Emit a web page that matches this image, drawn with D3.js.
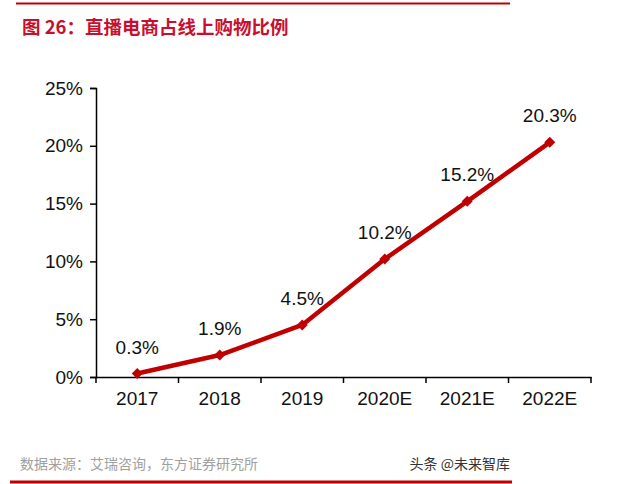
<!DOCTYPE html>
<html>
<head>
<meta charset="utf-8">
<script src="https://cdn.jsdelivr.net/npm/d3@7"></script>
<style>
  body { margin: 0; background: #fff; }
  svg { display: block; }
</style>
</head>
<body>
<div id="chart"></div>
<script>
const years = ['2017', '2018', '2019', '2020E', '2021E', '2022E'];
const shares = [0.3, 1.9, 4.5, 10.2, 15.2, 20.3];
const yTicks = [0, 5, 10, 15, 20, 25];

const width = 640, height = 484;
const margin = { left: 96, right: 49, top: 88, bottom: 107 };

const svg = d3.select('#chart').append('svg')
    .attr('width', width)
    .attr('height', height);

// top rule + title
svg.append('line')
    .attr('x1', 16).attr('x2', 510)
    .attr('y1', 3.5).attr('y2', 3.5)
    .attr('stroke', '#c00000').attr('stroke-width', 2);

svg.append('text')
    .attr('x', 22).attr('y', 34)
    .text('图 26：直播电商占线上购物比例')
    .style('fill', '#c8102e')
    .style('font-family', '"Noto Sans CJK SC", sans-serif')
    .style('font-weight', 'bold')
    .style('font-size', '18.5px');

// scales
let xScale = d3.scaleBand()
    .domain(years)
    .range([margin.left, width - margin.right]);

let yScale = d3.scaleLinear()
    .domain([0, 25])
    .range([height - margin.bottom, margin.top]);

const font = '"Liberation Sans", Arial, sans-serif';

// y axis
let yAxis = svg.append('g')
    .attr('transform', `translate(${margin.left},0)`)
    .call(d3.axisLeft(yScale).tickValues(yTicks).tickSize(6).tickPadding(7).tickFormat(d => d + '%'));

// x axis
let xAxis = svg.append('g')
    .attr('transform', `translate(0,${height - margin.bottom})`)
    .call(d3.axisBottom(xScale).tickSize(0).tickPadding(15));

// category boundary ticks on x axis
xAxis.selectAll('.bound')
    .data(years.concat(['end']))
    .join('line')
    .attr('class', 'bound')
    .attr('x1', (d, i) => margin.left + i * xScale.step())
    .attr('x2', (d, i) => margin.left + i * xScale.step())
    .attr('y1', 0).attr('y2', 6)
    .attr('stroke', '#000').attr('stroke-width', 1.5);

[yAxis, xAxis].forEach(ax => {
    ax.select('.domain').attr('stroke', '#000').attr('stroke-width', 1.5);
    ax.selectAll('.tick line').attr('stroke', '#000').attr('stroke-width', 1.5);
    ax.selectAll('text')
        .style('font-family', font)
        .style('font-size', '19px')
        .style('fill', '#111');
});
xAxis.selectAll('text').attr('dy', '0.71em');

// line
let lineGenerator = d3.line()
    .x((d, i) => xScale(years[i]) + xScale.bandwidth() / 2)
    .y(d => yScale(d));

svg.append('path')
    .attr('d', lineGenerator(shares))
    .attr('fill', 'none')
    .attr('stroke', '#c00000')
    .attr('stroke-width', 4.5)
    .attr('stroke-linejoin', 'round');

// diamond markers (rotated squares)
svg.selectAll('.marker')
    .data(shares)
    .join('path')
    .attr('class', 'marker')
    .attr('d', d3.symbol(d3.symbolSquare, 60))
    .attr('transform', (d, i) => `translate(${xScale(years[i]) + xScale.bandwidth() / 2},${yScale(d)}) rotate(45)`)
    .attr('fill', '#c00000');

svg.selectAll('.val')
    .data(shares)
    .join('text')
    .attr('class', 'val')
    .attr('x', (d, i) => xScale(years[i]) + xScale.bandwidth() / 2)
    .attr('y', d => yScale(d) - 20)
    .attr('text-anchor', 'middle')
    .text(d => d.toFixed(1) + '%')
    .style('font-family', font)
    .style('font-size', '19px')
    .style('fill', '#111');

// footer
svg.append('text')
    .attr('x', 20).attr('y', 469)
    .text('数据来源：艾瑞咨询，东方证券研究所')
    .style('fill', '#a0a0a0')
    .style('font-family', '"Noto Sans CJK SC", sans-serif')
    .style('font-size', '14px');

svg.append('text')
    .attr('x', 510).attr('y', 469)
    .attr('text-anchor', 'end')
    .text('头条 @未来智库')
    .style('fill', '#333')
    .style('font-family', '"Noto Sans CJK SC", sans-serif')
    .style('font-size', '14px');

svg.append('line')
    .attr('x1', 10).attr('x2', 512)
    .attr('y1', 482).attr('y2', 482)
    .attr('stroke', '#c00000').attr('stroke-width', 3);
</script>
</body>
</html>
